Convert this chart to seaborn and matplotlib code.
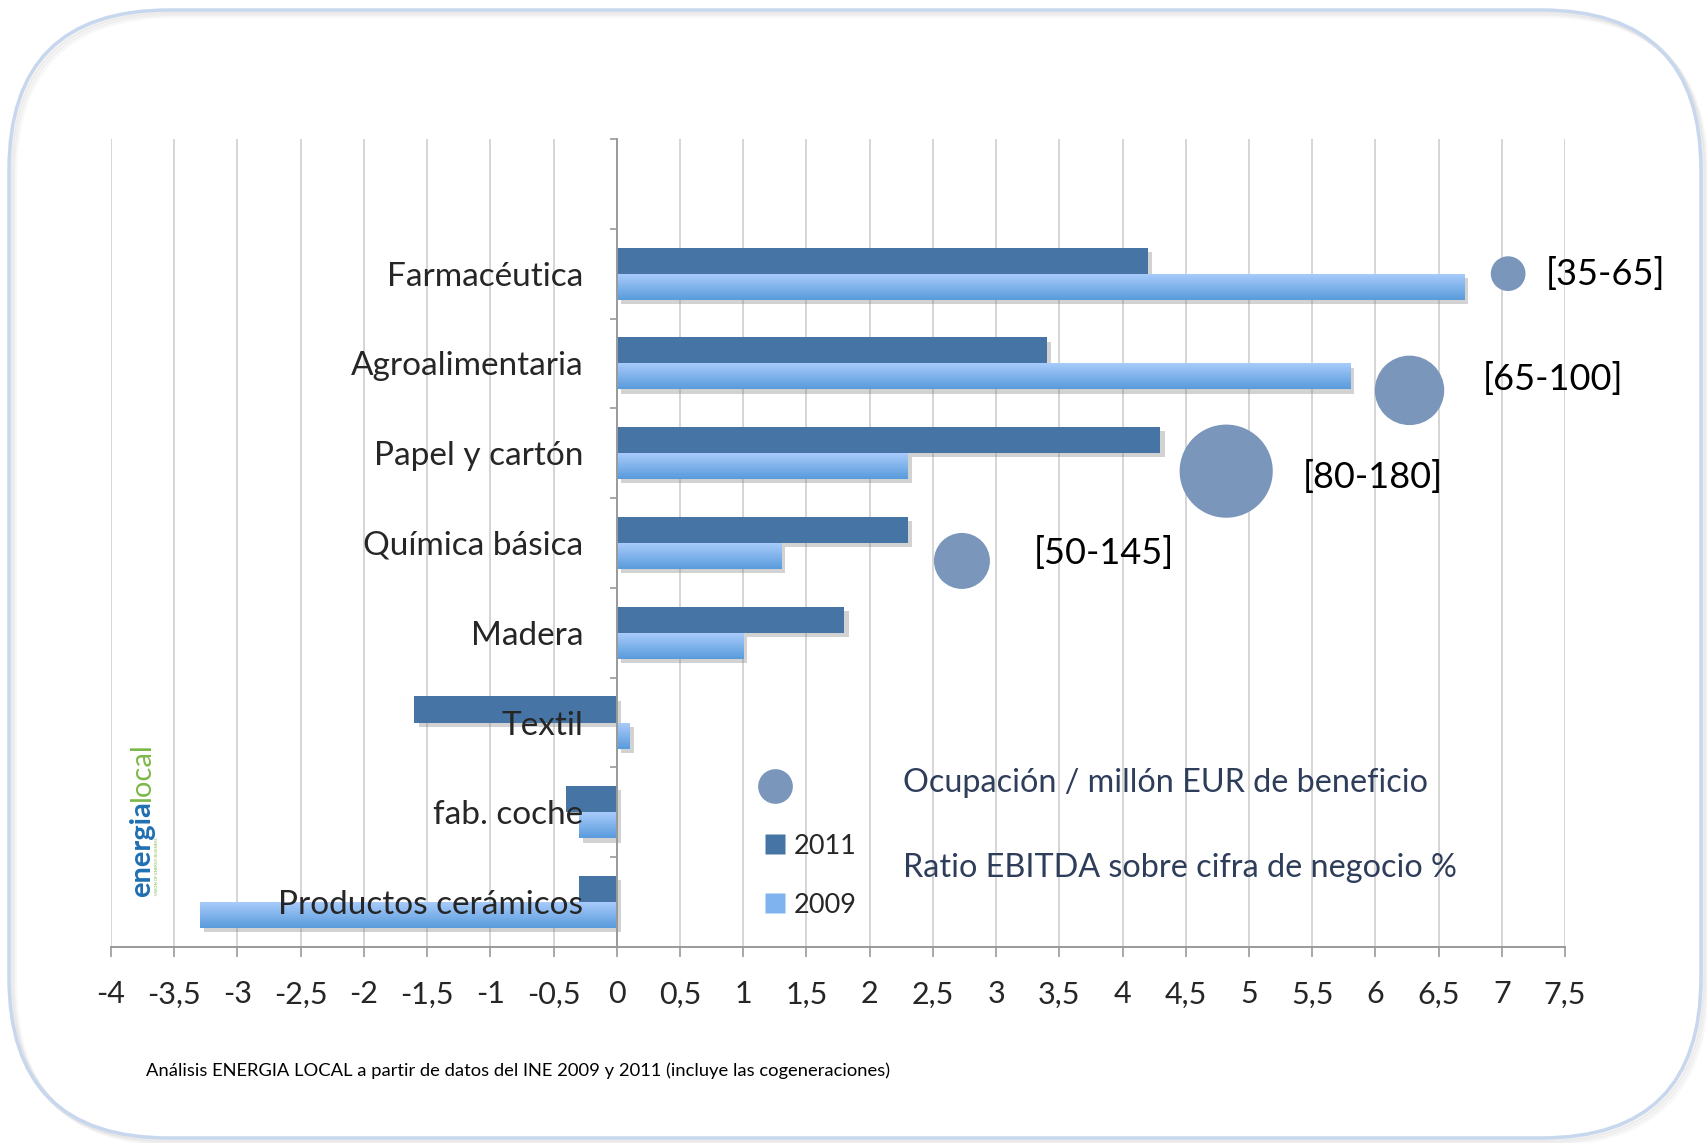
import numpy as np
import pandas as pd
import matplotlib
matplotlib.use("Agg")
import matplotlib.pyplot as plt
import matplotlib.patheffects as pe
from matplotlib.patches import FancyBboxPatch
from matplotlib.lines import Line2D
from matplotlib.colors import LinearSegmentedColormap
from matplotlib.ticker import FuncFormatter
import seaborn as sns

# data
sectors = ["Farmacéutica", "Agroalimentaria", "Papel y cartón", "Química básica",
           "Madera", "Textil", "fab. coche", "Productos cerámicos"]
ebitda_2011 = [4.2, 3.4, 4.3, 2.3, 1.8, -1.6, -0.4, -0.3]
ebitda_2009 = [6.7, 5.8, 2.3, 1.3, 1.0, 0.1, -0.3, -3.3]

bubble_x = [7.05, 6.27, 4.82, 2.73]
bubble_y = [0.0, 1.3, 2.2, 3.2]
bubble_rel = [1.0, 4.0, 7.2, 2.6]
bubble_labels = ["[35-65]", "[65-100]", "[80-180]", "[50-145]"]

footer = "Análisis ENERGIA LOCAL a partir de datos del INE 2009 y 2011 (incluye las cogeneraciones)"

C2011 = "#4674a4"
C2009_TOP = "#aacdfc"
C2009_BOT = "#5a9bdc"
CBUB = "#7a96bb"
CTITLE = "#2e3d5a"

sns.set_style("white")
plt.rcParams["font.family"] = ["Lato", "DejaVu Sans"]

df = pd.DataFrame({
    "sector": sectors * 2,
    "ratio": ebitda_2011 + ebitda_2009,
    "year": ["2011"] * len(sectors) + ["2009"] * len(sectors),
})

fig = plt.figure(figsize=(17.08, 11.43), dpi=100)
fig.patch.set_facecolor("white")

# rounded frame with a soft shadow
for k, a in [(6, 0.05), (4, 0.07), (2, 0.09)]:
    fig.patches.append(FancyBboxPatch((0.09 + k / 100, 0.05 - k / 100), 16.92, 11.28,
                                      boxstyle="round,pad=0,rounding_size=1.6",
                                      transform=fig.dpi_scale_trans, fc="none",
                                      ec="#808080", lw=3, alpha=a))
fig.patches.append(FancyBboxPatch((0.09, 0.05), 16.92, 11.28,
                                  boxstyle="round,pad=0,rounding_size=1.6",
                                  transform=fig.dpi_scale_trans, fc="none",
                                  ec="#c6d7ee", lw=2.5))

ax = fig.add_axes([0.065, 0.1715, 0.8513, 0.7069])
sns.barplot(data=df, y="sector", x="ratio", hue="year", hue_order=["2011", "2009"],
            palette={"2011": C2011, "2009": "#7fb3ef"}, width=0.58, orient="h",
            errorbar=None, saturation=1, legend=False, ax=ax)

shadow = [pe.SimplePatchShadow(offset=(3, -3), shadow_rgbFace="#808080", alpha=0.35), pe.Normal()]
for p in ax.containers[0]:
    p.set_path_effects(shadow)
    p.set_edgecolor("none")

# 2009 bars get a vertical gradient like the original
cmap09 = LinearSegmentedColormap.from_list("g09", [C2009_TOP, C2009_BOT])
grad = np.linspace(0, 1, 64).reshape(-1, 1)
for p in ax.containers[1]:
    x0 = p.get_x()
    x1 = x0 + p.get_width()
    y0 = p.get_y()
    y1 = y0 + p.get_height()
    p.set_facecolor("none")
    p.set_edgecolor("none")
    p.set_path_effects(shadow)
    im = ax.imshow(grad, extent=(min(x0, x1), max(x0, x1), y1, y0), origin="upper",
                   cmap=cmap09, aspect="auto", zorder=p.get_zorder() + 0.1,
                   interpolation="bilinear")
    im.set_clip_path(p)

ax.set_xlim(-4, 7.5)
ax.set_ylim(7.5, -1.5)
ax.set_xlabel("")
ax.set_ylabel("")

ax.set_xticks(np.arange(-4, 7.51, 0.5))
ax.xaxis.set_major_formatter(FuncFormatter(lambda v, _: f"{v:g}".replace(".", ",")))
ax.xaxis.grid(True, color="#d2d2d2", lw=1.3)
ax.yaxis.grid(False)
ax.set_axisbelow(True)
ax.yaxis.set_zorder(5)

for s in ["top", "right"]:
    ax.spines[s].set_visible(False)
ax.spines["left"].set_position(("data", 0))
for s in ["left", "bottom"]:
    ax.spines[s].set_color("#9a9a9a")
    ax.spines[s].set_linewidth(1.4)

ax.tick_params(axis="x", direction="out", length=7, width=1.2, color="#9a9a9a",
               labelsize=22, pad=17, bottom=True)
ax.set_yticks(np.arange(-1.5, 7.6, 1), minor=True)
ax.tick_params(axis="y", which="minor", direction="out", length=5, width=1.2, color="#9a9a9a", left=True)
ax.tick_params(axis="y", which="major", length=0, labelsize=24, pad=24)

# bubbles on a secondary axis
ax2 = ax.twinx()
ax2.set_ylim(7.5, -1.5)
sns.scatterplot(x=bubble_x, y=bubble_y, size=bubble_rel, sizes=(625, 4500), size_norm=(1, 7.2),
                color=CBUB, edgecolor="none", alpha=1, legend=False, ax=ax2, zorder=4)
ax2.set_xlim(-4, 7.5)
ax2.set_yticks([])
ax2.grid(False)
for s in ax2.spines.values():
    s.set_visible(False)

label_offsets = [(27, 0), (53, 8), (55, -4), (52, 6)]
for bx, by, lab, off in zip(bubble_x, bubble_y, bubble_labels, label_offsets):
    ax2.annotate(lab, (bx, by), xytext=off, textcoords="offset points",
                 ha="left", va="center", fontsize=26, color="black")

# legend and series titles
handles = [
    Line2D([], [], marker="o", ls="", ms=25, color=CBUB, mec="none"),
    Line2D([], [], marker="s", ls="", ms=15, color=C2011, mec="none"),
    Line2D([], [], marker="s", ls="", ms=15, color="#7fb3ef", mec="none"),
]
fig.legend(handles, [" ", "2011", "2009"], loc="upper left",
           bbox_to_anchor=(761 / 1708, 1 - 775 / 1143), frameon=False, fontsize=19.5,
           handlelength=1.0, handletextpad=0.2, labelspacing=1.25, borderpad=0,
           borderaxespad=0)

fig.text(903 / 1708, 1 - 783 / 1143, "Ocupación / millón EUR de beneficio",
         fontsize=23.3, color=CTITLE, va="center", ha="left")
fig.text(903 / 1708, 1 - 868 / 1143, "Ratio EBITDA sobre cifra de negocio %",
         fontsize=23.3, color=CTITLE, va="center", ha="left")

# logo
t_en = fig.text(142 / 1708, 1 - 897 / 1143, "energia", rotation=90, ha="center", va="bottom",
                fontsize=21, fontweight="bold", color="#1f6fb2")
fig.add_artist(plt.Annotation("local", xy=(0.5, 1.0), xycoords=t_en, rotation=90,
                              ha="center", va="bottom", fontsize=21, color="#7cb84a"))
fig.text(157 / 1708, 1 - 895 / 1143, "VISION OF ENERGY BUSINESS", rotation=90,
         ha="center", va="bottom", fontsize=3, color="#7cb84a")

fig.text(146 / 1708, 1 - 1071 / 1143, footer, fontsize=13.2, color="black",
         va="center", ha="left")

fig.savefig("out.png", dpi=100, facecolor="white")
